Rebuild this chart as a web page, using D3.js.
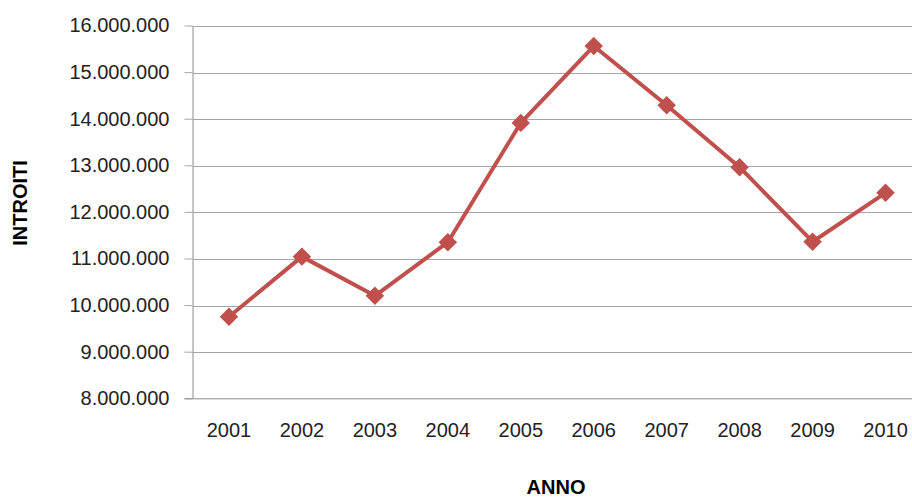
<!DOCTYPE html>
<html>
<head>
	<title>Introiti per anno</title>
	<meta charset='utf-8'>
	<style>
		body {
			margin: 0;
			background: #fff;
		}

		.chart {
			background-color: #fff;
			font-family: 'Liberation Sans', Arial, sans-serif;
		}

		.line {
			fill: none;
			stroke: #c0504d;
			stroke-width: 4px;
			stroke-linejoin: round;
		}

		.marker {
			fill: #c0504d;
		}

		.tick > text {
			fill: #222;
			font-size: 20px;
			font-family: 'Liberation Sans', Arial, sans-serif;
		}

		.axis__y .tick > line {
			stroke: #a6a6a6;
		}

		.axis path.domain {
			stroke: #8c8c8c;
		}

		.grid line {
			stroke: #a6a6a6;
			shape-rendering: crispEdges;
		}

		.axis-title {
			font-size: 20px;
			font-weight: bold;
			fill: #000;
		}
	</style>
</head>
<body>

<script src='https://d3js.org/d3.v7.min.js'></script>
<script>
	'use strict';

	// dati
	const anni = ['2001', '2002', '2003', '2004', '2005', '2006', '2007', '2008', '2009', '2010'];
	const introiti = [9750000, 11040000, 10200000, 11350000, 13910000, 15560000, 14290000, 12960000, 11360000, 12410000];
	const yTicks = [8000000, 9000000, 10000000, 11000000, 12000000, 13000000, 14000000, 15000000, 16000000];

	const totalWidth = 912;
	const totalHeight = 498;
	const margin = {top: 25.5, right: -10, bottom: 100, left: 192.5};
	const width = totalWidth - margin.left - margin.right;
	const height = totalHeight - margin.top - margin.bottom + 0.3;

	const itFormat = d3.formatLocale({decimal: ',', thousands: '.', grouping: [3], currency: ['€', '']}).format(',d');

	const xScale = d3.scaleBand().domain(anni).range([0, width]);
	const yScale = d3.scaleLinear().domain([8000000, 16000000]).range([height, 0]);

	const data = anni.map(function(a, i) {return {anno: a, valore: introiti[i]};});

	const svg = d3.select('body').append('svg')
		.attr('class', 'chart')
		.attr('width', totalWidth)
		.attr('height', totalHeight);

	const g = svg.append('g')
		.attr('transform', 'translate(' + margin.left + ',' + margin.top + ')');

	// griglia orizzontale
	g.append('g')
		.attr('class', 'grid')
		.selectAll('line')
		.data(yTicks.slice(1))
		.enter().append('line')
		.attr('x1', 0)
		.attr('x2', totalWidth)
		.attr('y1', function(d) {return Math.round(yScale(d)) + 0.5;})
		.attr('y2', function(d) {return Math.round(yScale(d)) + 0.5;});

	g.append('g')
		.attr('class', 'axis axis__y')
		.call(d3.axisLeft(yScale)
			.tickValues(yTicks)
			.tickFormat(itFormat)
			.tickSizeInner(8)
			.tickSizeOuter(0)
			.tickPadding(15)
		);

	g.append('g')
		.attr('class', 'axis axis__x')
		.attr('transform', 'translate(0,' + height + ')')
		.call(d3.axisBottom(xScale)
			.tickSize(0)
			.tickPadding(25)
		);

	g.select('.axis__x path.domain').attr('d', 'M-8,0.5H' + totalWidth);

	// linea
	const valueline = d3.line()
		.x(function(d) {return xScale(d.anno) + xScale.bandwidth() / 2;})
		.y(function(d) {return yScale(d.valore);});

	g.append('path')
		.datum(data)
		.attr('class', 'line')
		.attr('d', valueline);

	g.selectAll('.marker')
		.data(data)
		.enter().append('path')
		.attr('class', 'marker')
		.attr('d', d3.symbol(d3.symbolSquare, 170))
		.attr('transform', function(d) {
			return 'translate(' + (xScale(d.anno) + xScale.bandwidth() / 2) + ',' + yScale(d.valore) + ') rotate(45)';
		});

	// titoli degli assi
	svg.append('text')
		.attr('class', 'axis-title')
		.attr('text-anchor', 'middle')
		.attr('transform', 'translate(27,203) rotate(-90)')
		.text('INTROITI');

	svg.append('text')
		.attr('class', 'axis-title')
		.attr('text-anchor', 'middle')
		.attr('x', 556)
		.attr('y', 494)
		.text('ANNO');
</script>
</body>
</html>
